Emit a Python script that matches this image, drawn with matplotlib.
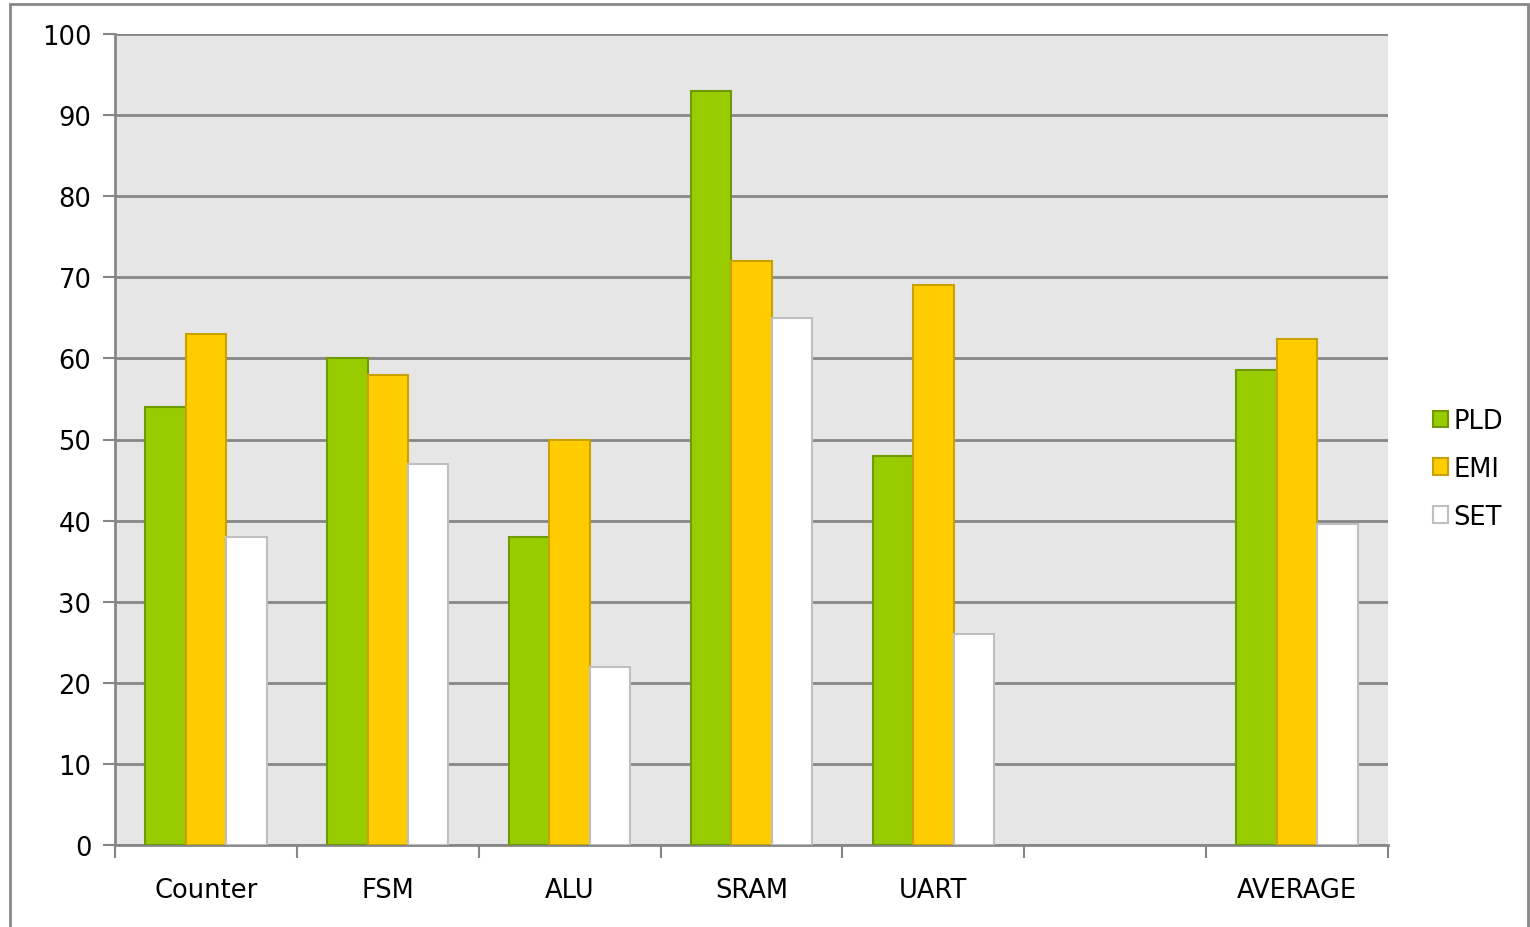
import matplotlib
matplotlib.use("Agg")
import matplotlib.pyplot as plt
import numpy as np
from matplotlib.patches import Rectangle

categories = ["Counter", "FSM", "ALU", "SRAM", "UART", "", "AVERAGE"]
pld = [54, 60, 38, 93, 48, np.nan, 58.6]
emi = [63, 58, 50, 72, 69, np.nan, 62.4]
set_ = [38, 47, 22, 65, 26, np.nan, 39.6]

series = [
    ("PLD", pld, "#99CC00", "#6F9A00"),
    ("EMI", emi, "#FFCC00", "#C9A100"),
    ("SET", set_, "#FFFFFF", "#BFBFBF"),
]

plt.rcParams["font.family"] = ["DejaVu Sans"]
FS = 18.5

fig = plt.figure(figsize=(15.3, 9.28), dpi=100)
ax = fig.add_axes([115 / 1530, 1 - 846 / 928, (1388 - 115) / 1530, (846 - 35) / 928])
ax.set_facecolor("#E6E6E6")

x = np.arange(len(categories))
bw = 1 / 4.5
for i, (name, vals, fc, ec) in enumerate(series):
    ax.bar(x + (i - 1) * bw, vals, width=bw, color=fc, edgecolor=ec,
           linewidth=1.5, label=name, zorder=3)

ax.set_xlim(-0.5, len(categories) - 0.5)
ax.set_ylim(0, 100)
ax.set_yticks(np.arange(0, 101, 10))
ax.yaxis.grid(True, color="#868686", linewidth=2, zorder=1)
ax.set_axisbelow(True)

# category labels centred, tick marks on category boundaries
ax.set_xticks(np.arange(-0.5, len(categories), 1))
ax.set_xticklabels([])
ax.set_xticks(x, minor=True)
ax.set_xticklabels(categories, minor=True)
ax.tick_params(axis="x", which="minor", length=0, pad=23, labelsize=FS)
ax.tick_params(axis="x", which="major", length=9, width=1.5, color="#868686", direction="out")
ax.tick_params(axis="y", length=9, width=1.5, color="#868686", labelsize=FS, pad=8)

for s in ["top", "right"]:
    ax.spines[s].set_visible(False)
for s in ["left", "bottom"]:
    ax.spines[s].set_color("#868686")
    ax.spines[s].set_linewidth(2)

leg = ax.legend(loc="center left", bbox_to_anchor=(1.021, 0.464), frameon=False,
                fontsize=FS, handlelength=0.6, handleheight=0.6,
                handletextpad=0.2, labelspacing=0.85, borderpad=0.2)

# outer chart frame
fig.patches.append(Rectangle((10 / 1530, -0.01), 1518 / 1530, 1 - 5 / 928 + 0.01,
                             transform=fig.transFigure, fill=False,
                             edgecolor="#888888", linewidth=2))

fig.savefig("out.png", dpi=100, facecolor="white")
